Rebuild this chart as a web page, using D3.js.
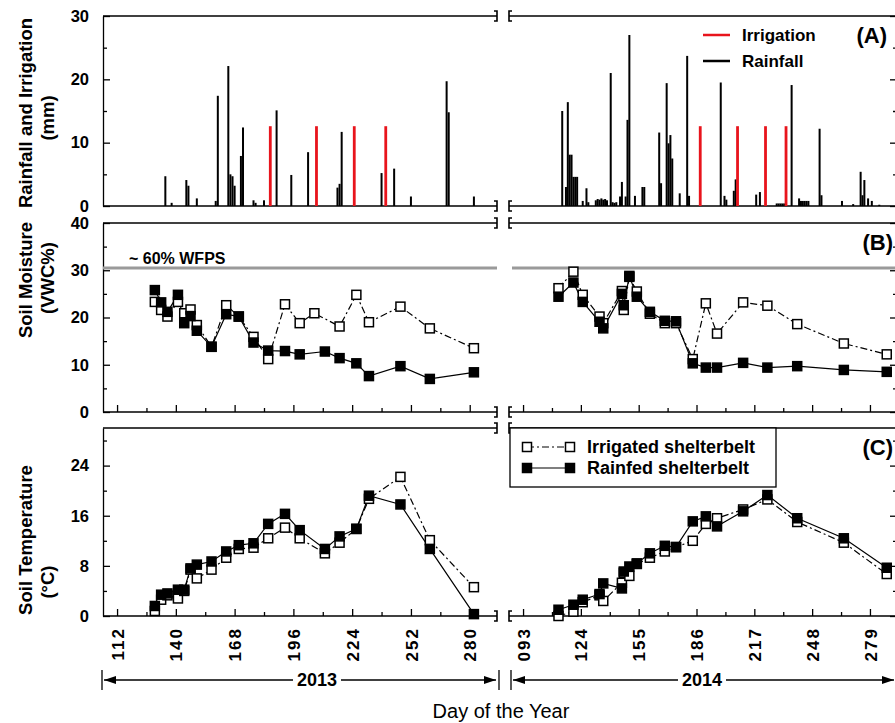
<!DOCTYPE html>
<html>
<head>
<meta charset="utf-8">
<script src="https://cdn.jsdelivr.net/npm/d3@7"></script>
<style>
  body { margin: 0; background: #fff; }
  svg { font-family: "Liberation Sans", Arial, sans-serif; }
  .tick text { font-weight: bold; font-size: 16.5px; fill: #000; }
  .tick line, .domain { stroke: #000; stroke-width: 1.3; }
</style>
</head>
<body>
<script>
// ---- data ----
// rainfall / irrigation (day of year, mm)
const rainDay13 = [135,138,145,146,150,159,160,165,166,167,168,171,172,177,178,182,188,195,203,217,218,219,238,244,252,269,270,282];
const rainMm13  = [4.7,0.5,4.1,3.2,1.2,0.8,17.4,22.1,5.0,4.7,3.2,7.9,12.4,0.9,0.5,0.9,15.1,4.9,8.5,2.9,3.5,11.7,5.2,5.9,1.5,19.7,14.8,1.5];
const irrDay13  = [185,207,225,240];
const irrMm13   = [12.6,12.6,12.6,12.6];

const rainDay14 = [114,116,117,118,119,120,121,122,125,127,128,132,133,134,135,136,137,138,140,141,142,143,145,146,148,149,150,153,157,158,166,167,170,171,172,173,177,181,182,199,201,202,206,207,218,220,229,230,231,232,233,237,241,242,243,244,245,246,252,253,264,270,274,275,276,278,280,284];
const rainMm14  = [15.0,3.0,16.4,8.1,8.1,4.6,4.6,4.6,0.8,2.8,0.6,0.9,1.1,1.0,1.2,1.0,1.1,0.9,21.0,0.6,0.5,0.6,1.5,3.8,1.5,13.6,27.0,1.6,3.0,3.0,11.6,3.6,19.4,9.9,11.2,7.5,2.0,23.7,1.6,19.5,1.6,1.0,2.4,4.2,1.8,2.2,0.4,0.4,0.4,0.4,0.4,19.1,1.2,0.8,0.8,0.8,0.8,0.8,12.2,1.7,0.8,0.3,5.4,1.7,4.1,1.2,0.8,0.2];
const irrDay14  = [188,208,223,234];
const irrMm14   = [12.6,12.6,12.6,12.6];

// sampling days
const days13 = [130,133,136,141,144,147,150,157,164,170,177,184,192,199,206,211,218,226,232,247,261,282];
const days14 = [112,120,125,134,136,146,147,150,154,161,169,175,184,191,197,211,224,240,265,288];

// soil moisture (VWC %)
const smIrr13  = [23.3,21.6,20.2,23.3,20.9,21.7,18.4,13.8,22.6,20.2,15.9,11.2,22.8,18.8,20.9,null,18.1,24.8,19.0,22.3,17.7,13.5];
const smRain13 = [25.8,23.2,21.2,24.8,18.8,20.3,17.2,13.8,20.7,20.2,14.7,13.0,12.9,12.2,null,12.8,11.4,10.3,7.6,9.7,7.0,8.4];
const smIrr14  = [26.2,29.7,24.8,20.2,18.8,25.6,21.6,28.6,25.5,20.8,18.8,18.8,11.2,23.0,16.6,23.2,22.5,18.6,14.5,12.2];
const smRain14 = [24.4,27.4,23.3,19.1,17.7,25.0,22.6,28.8,24.4,21.2,19.3,19.2,10.3,9.4,9.4,10.4,9.4,9.7,8.9,8.5];

// soil temperature (°C)
const stIrr13  = [0.8,2.6,3.3,2.8,4.0,7.4,6.0,7.4,9.3,10.7,10.9,12.4,14.1,12.4,null,10.0,11.7,13.9,18.7,22.2,12.1,4.6];
const stRain13 = [1.6,3.4,3.6,4.2,4.2,7.6,8.2,8.7,10.3,11.3,11.6,14.7,16.3,13.7,null,10.7,12.7,13.9,19.2,17.8,10.7,0.3];
const stIrr14  = [0.0,0.7,2.2,3.3,2.4,5.3,6.9,6.4,8.3,9.3,10.3,11.0,12.0,14.7,15.6,17.0,18.6,15.0,11.7,6.7];
const stRain14 = [1.0,1.8,2.6,3.5,5.2,4.4,7.1,7.9,8.4,10.0,11.2,11.0,15.1,15.9,14.3,16.7,19.3,15.6,12.4,7.7];

const wfps = 30.5; // ~60% WFPS reference line

const W = 895, H = 723;

const svg = d3.select("body").append("svg")
  .attr("width", W)
  .attr("height", H);

svg.append("rect").attr("width", W).attr("height", H).attr("fill", "#fff");

// scales
const xL = d3.scaleLinear().domain([105.3, 293]).range([103, 497]);
const xR = d3.scaleLinear().domain([86, 293.5]).range([510, 897]);
const yA = d3.scaleLinear().domain([0, 30]).range([206, 16]);
const yB = d3.scaleLinear().domain([0, 40]).range([412, 223]);
const yC = d3.scaleLinear().domain([0, 30]).range([616, 428]);

const segs = [
  {x: xL, start: 103, end: 497, rainDay: rainDay13, rainMm: rainMm13, irrDay: irrDay13, irrMm: irrMm13,
   days: days13, smI: smIrr13, smR: smRain13, stI: stIrr13, stR: stRain13,
   ticks: d3.range(112, 293, 14), base: 112, major: 28, fmt: d3.format("d")},
  {x: xR, start: 509, end: 897, rainDay: rainDay14, rainMm: rainMm14, irrDay: irrDay14, irrMm: irrMm14,
   days: days14, smI: smIrr14, smR: smRain14, stI: stIrr14, stR: stRain14,
   ticks: d3.range(93, 294, 15.5), base: 93, major: 31, fmt: d3.format("03d")}
];

const panels = [
  {y: yA, ticks: d3.range(0, 31, 5), lab: 10, xticks: false},
  {y: yB, ticks: d3.range(0, 41, 5), lab: 10, xticks: true},
  {y: yC, ticks: d3.range(0, 31, 4), lab: 8, xticks: true}
];

// frames, axes and break marks
panels.forEach(p => {
  const [y0, y1] = p.y.range(); // bottom, top
  segs.forEach(s => {
    [y0, y1].forEach(yy => {
      svg.append("line")
        .attr("x1", s.start).attr("x2", s.end)
        .attr("y1", yy).attr("y2", yy)
        .attr("stroke", "#000").attr("stroke-width", 1.3);
    });
  });

  // left y axis, ticks inside
  const gl = svg.append("g").attr("transform", "translate(103,0)")
    .call(d3.axisLeft(p.y).tickValues(p.ticks).tickSize(-7).tickSizeOuter(0).tickPadding(14)
      .tickFormat(d => d % p.lab === 0 ? d : ""));
  gl.selectAll(".tick line").attr("x2", d => d % p.lab === 0 ? 7 : 4);

  // right border of 2014 segment
  const gr = svg.append("g").attr("transform", "translate(897,0)")
    .call(d3.axisRight(p.y).tickValues(p.ticks).tickSize(-7).tickSizeOuter(0).tickFormat(""));
  gr.selectAll(".tick line").attr("x2", d => d % p.lab === 0 ? -7 : -4);

  // break brackets
  [y0, y1].forEach(yy => {
    svg.append("path")
      .attr("d", `M494,${yy - 5}H497V${yy + 5}H494`)
      .attr("fill", "none").attr("stroke", "#000").attr("stroke-width", 1.6);
    svg.append("path")
      .attr("d", `M512,${yy - 5}H509V${yy + 5}H512`)
      .attr("fill", "none").attr("stroke", "#000").attr("stroke-width", 1.6);
  });

  // x ticks on the bottom of B and C
  if (p.xticks) {
    segs.forEach(s => {
      const g = svg.append("g").attr("transform", `translate(0,${y0})`)
        .call(d3.axisBottom(s.x).tickValues(s.ticks).tickSize(-7).tickSizeOuter(0)
          .tickFormat(d => (p.y === yC && (d - s.base) % s.major === 0) ? s.fmt(d) : ""));
      g.select(".domain").remove();
      g.selectAll(".tick line").attr("y2", d => (d - s.base) % s.major === 0 ? -7 : -4);
      g.selectAll(".tick text")
        .attr("transform", "rotate(-90)")
        .attr("text-anchor", "end")
        .attr("x", -11).attr("y", 0).attr("dy", "0.36em")
        .style("font-size", "17px")
        .style("letter-spacing", "2px");
    });
  }
});

// Panel A: rainfall and irrigation bars
segs.forEach(s => {
  svg.append("g").selectAll("rect")
    .data(s.rainDay.map((d, i) => ({d: d, v: s.rainMm[i]})))
    .enter().append("rect")
    .attr("x", d => s.x(d.d) - 1)
    .attr("width", 2)
    .attr("y", d => yA(d.v))
    .attr("height", d => yA(0) - yA(d.v))
    .attr("fill", "#000");
  svg.append("g").selectAll("rect")
    .data(s.irrDay.map((d, i) => ({d: d, v: s.irrMm[i]})))
    .enter().append("rect")
    .attr("x", d => s.x(d.d) - 1.4)
    .attr("width", 2.8)
    .attr("y", d => yA(d.v))
    .attr("height", d => yA(0) - yA(d.v))
    .attr("fill", "#e8141c");
});

// legend A
[["Irrigation", "#e8141c", 35], ["Rainfall", "#000", 61]].forEach(e => {
  svg.append("line").attr("x1", 703).attr("x2", 730).attr("y1", e[2]).attr("y2", e[2])
    .attr("stroke", e[1]).attr("stroke-width", 2.5);
  svg.append("text").text(e[0]).attr("x", 742).attr("y", e[2]).attr("dy", "0.36em")
    .style("font-weight", "bold").style("font-size", "17px");
});

// WFPS line
segs.forEach(s => {
  svg.append("line")
    .attr("x1", s.x.range()[0] + (s.x === xR ? 2 : 0)).attr("x2", Math.min(s.end, W))
    .attr("y1", yB(wfps)).attr("y2", yB(wfps))
    .attr("stroke", "#9a9a9a").attr("stroke-width", 3);
});
svg.append("text").text("~ 60% WFPS").attr("x", 129).attr("y", 258).attr("dy", "0.36em")
  .style("font-weight", "bold").style("font-size", "16px");

// scatter series
const sq = 9;
function series(x, y, days, vals, filled) {
  const pts = days.map((d, i) => ({d: d, v: vals[i]})).filter(p => p.v != null);
  const line = d3.line().x(p => x(p.d)).y(p => y(p.v));
  svg.append("path").attr("d", line(pts))
    .attr("fill", "none").attr("stroke", "#000").attr("stroke-width", 1.2)
    .attr("stroke-dasharray", filled ? null : "7,3,2,3");
  return pts;
}
function markers(x, y, pts, filled) {
  svg.append("g").selectAll("rect").data(pts).enter().append("rect")
    .attr("x", p => x(p.d) - sq / 2).attr("y", p => y(p.v) - sq / 2)
    .attr("width", sq).attr("height", sq)
    .attr("fill", filled ? "#000" : "#fff")
    .attr("stroke", "#000").attr("stroke-width", 1.5);
}
segs.forEach(s => {
  [[yB, s.smI, s.smR], [yC, s.stI, s.stR]].forEach(([y, irr, rain]) => {
    const pi = series(s.x, y, s.days, irr, false);
    const pr = series(s.x, y, s.days, rain, true);
    markers(s.x, y, pi, false);
    markers(s.x, y, pr, true);
  });
});

// legend C
svg.append("rect").attr("x", 510).attr("y", 428).attr("width", 266).attr("height", 59)
  .attr("fill", "#fff").attr("stroke", "#000").attr("stroke-width", 1.3);
[["Irrigated shelterbelt", false, 447], ["Rainfed shelterbelt", true, 468]].forEach(e => {
  svg.append("line").attr("x1", 527).attr("x2", 570).attr("y1", e[2]).attr("y2", e[2])
    .attr("stroke", "#000").attr("stroke-width", 1.2)
    .attr("stroke-dasharray", e[1] ? null : "7,3,2,3");
  [527, 570].forEach(cx => {
    svg.append("rect").attr("x", cx - sq / 2).attr("y", e[2] - sq / 2)
      .attr("width", sq).attr("height", sq)
      .attr("fill", e[1] ? "#000" : "#fff").attr("stroke", "#000").attr("stroke-width", 1.5);
  });
  svg.append("text").text(e[0]).attr("x", 587).attr("y", e[2]).attr("dy", "0.36em")
    .style("font-weight", "bold").style("font-size", "18px");
});

// panel letters
[["(A)", 887, 35], ["(B)", 893, 242], ["(C)", 893, 447]].forEach(e => {
  svg.append("text").text(e[0]).attr("x", e[1]).attr("y", e[2]).attr("dy", "0.36em")
    .attr("text-anchor", "end").style("font-weight", "bold").style("font-size", "22px");
});

// y titles
[["Rainfall and Irrigation", 25, 113], ["(mm)", 47, 118],
 ["Soil Moisture", 25, 280], ["(VWC%)", 47, 278],
 ["Soil Temperature", 25, 540], ["(°C)", 47, 582]].forEach(e => {
  svg.append("text").text(e[0])
    .attr("transform", `translate(${e[1]},${e[2]}) rotate(-90)`)
    .attr("text-anchor", "middle").attr("dy", "0.36em")
    .style("font-weight", "bold").style("font-size", "18.5px");
});

// year arrows
function yearArrow(x0, x1, cx, label) {
  const yy = 680, half = 24;
  const g = svg.append("g").attr("stroke", "#000").attr("stroke-width", 1.3);
  g.append("line").attr("x1", x0 - 2).attr("x2", x0 - 2).attr("y1", yy - 10).attr("y2", yy + 10);
  g.append("line").attr("x1", x1 + 3).attr("x2", x1 + 3).attr("y1", yy - 10).attr("y2", yy + 10);
  g.append("line").attr("x1", x0).attr("x2", cx - half).attr("y1", yy).attr("y2", yy);
  g.append("line").attr("x1", cx + half).attr("x2", x1).attr("y1", yy).attr("y2", yy);
  svg.append("path").attr("d", `M${x0},${yy}L${x0 + 12},${yy - 4}L${x0 + 12},${yy + 4}Z`).attr("fill", "#000");
  svg.append("path").attr("d", `M${x1},${yy}L${x1 - 12},${yy - 4}L${x1 - 12},${yy + 4}Z`).attr("fill", "#000");
  svg.append("text").text(label).attr("x", cx).attr("y", yy).attr("dy", "0.36em")
    .attr("text-anchor", "middle").style("font-weight", "bold").style("font-size", "18px");
}
yearArrow(104, 496, 317, "2013");
yearArrow(513, 894, 702, "2014");

svg.append("text").text("Day of the Year").attr("x", 501).attr("y", 711).attr("dy", "0.36em")
  .attr("text-anchor", "middle").style("font-size", "20px");
</script>
</body>
</html>
